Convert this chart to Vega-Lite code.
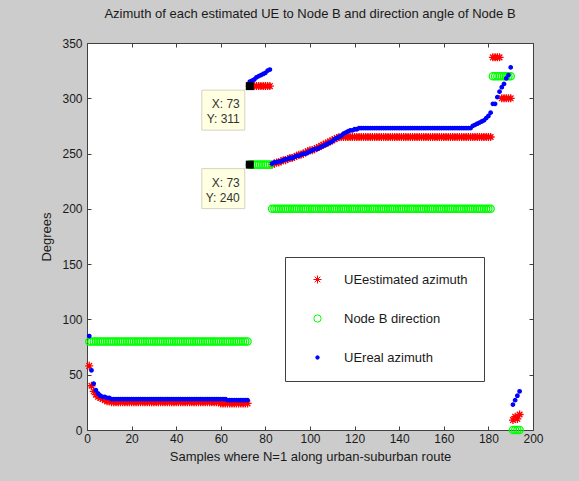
{
"$schema": "https://vega.github.io/schema/vega-lite/v6.json",
"width": 446, "height": 387,
"autosize": {"type": "none"},
"padding": {"left": 87, "top": 43, "right": 46, "bottom": 51},
"background": "#cccccc",
"title": {"text": "Azimuth of each estimated UE to Node B and direction angle of Node B", "font": "Liberation Sans", "fontSize": 13, "fontWeight": "normal", "color": "#1a1a1a", "offset": 16, "anchor": "middle"},
"datasets": {
"pts": [
{"x":1,"est":58,"nb":80,"real":85},{"x":2,"est":40,"nb":80,"real":54},{"x":3,"est":35,"nb":80,"real":42},{"x":4,"est":32,"nb":80,"real":36},{"x":5,"est":30,"nb":80,"real":33},{"x":6,"est":29,"nb":80,"real":31},{"x":7,"est":28,"nb":80,"real":30},{"x":8,"est":27,"nb":80,"real":30},{"x":9,"est":26,"nb":80,"real":29},{"x":10,"est":26,"nb":80,"real":29},
{"x":11,"est":25,"nb":80,"real":28},{"x":12,"est":25,"nb":80,"real":28},{"x":13,"est":25,"nb":80,"real":28},{"x":14,"est":25,"nb":80,"real":28},{"x":15,"est":25,"nb":80,"real":28},{"x":16,"est":25,"nb":80,"real":28},{"x":17,"est":25,"nb":80,"real":28},{"x":18,"est":25,"nb":80,"real":28},{"x":19,"est":25,"nb":80,"real":28},{"x":20,"est":25,"nb":80,"real":28},
{"x":21,"est":25,"nb":80,"real":28},{"x":22,"est":25,"nb":80,"real":28},{"x":23,"est":25,"nb":80,"real":28},{"x":24,"est":25,"nb":80,"real":28},{"x":25,"est":25,"nb":80,"real":28},{"x":26,"est":25,"nb":80,"real":28},{"x":27,"est":25,"nb":80,"real":28},{"x":28,"est":25,"nb":80,"real":28},{"x":29,"est":25,"nb":80,"real":28},{"x":30,"est":25,"nb":80,"real":28},
{"x":31,"est":25,"nb":80,"real":28},{"x":32,"est":25,"nb":80,"real":28},{"x":33,"est":25,"nb":80,"real":28},{"x":34,"est":25,"nb":80,"real":28},{"x":35,"est":25,"nb":80,"real":28},{"x":36,"est":25,"nb":80,"real":28},{"x":37,"est":25,"nb":80,"real":28},{"x":38,"est":25,"nb":80,"real":28},{"x":39,"est":25,"nb":80,"real":28},{"x":40,"est":25,"nb":80,"real":28},
{"x":41,"est":25,"nb":80,"real":28},{"x":42,"est":25,"nb":80,"real":28},{"x":43,"est":25,"nb":80,"real":28},{"x":44,"est":25,"nb":80,"real":28},{"x":45,"est":25,"nb":80,"real":28},{"x":46,"est":25,"nb":80,"real":28},{"x":47,"est":25,"nb":80,"real":28},{"x":48,"est":25,"nb":80,"real":28},{"x":49,"est":25,"nb":80,"real":28},{"x":50,"est":25,"nb":80,"real":28},
{"x":51,"est":25,"nb":80,"real":28},{"x":52,"est":25,"nb":80,"real":28},{"x":53,"est":25,"nb":80,"real":28},{"x":54,"est":25,"nb":80,"real":28},{"x":55,"est":25,"nb":80,"real":28},{"x":56,"est":25,"nb":80,"real":28},{"x":57,"est":25,"nb":80,"real":28},{"x":58,"est":25,"nb":80,"real":28},{"x":59,"est":25,"nb":80,"real":28},{"x":60,"est":24,"nb":80,"real":28},
{"x":61,"est":24,"nb":80,"real":28},{"x":62,"est":24,"nb":80,"real":28},{"x":63,"est":24,"nb":80,"real":27},{"x":64,"est":24,"nb":80,"real":27},{"x":65,"est":24,"nb":80,"real":27},{"x":66,"est":24,"nb":80,"real":27},{"x":67,"est":24,"nb":80,"real":27},{"x":68,"est":24,"nb":80,"real":27},{"x":69,"est":24,"nb":80,"real":27},{"x":70,"est":24,"nb":80,"real":27},
{"x":71,"est":24,"nb":80,"real":27},{"x":72,"est":24,"nb":80,"real":27},
{"x":73,"est":311,"nb":240,"real":315},{"x":74,"est":311,"nb":240,"real":316},{"x":75,"est":311,"nb":240,"real":317},{"x":76,"est":311,"nb":240,"real":319},{"x":77,"est":311,"nb":240,"real":320},{"x":78,"est":311,"nb":240,"real":321},{"x":79,"est":311,"nb":240,"real":322},{"x":80,"est":311,"nb":240,"real":323},{"x":81,"est":311,"nb":240,"real":325},{"x":82,"est":311,"nb":240,"real":326},
{"x":83,"est":240,"nb":200,"real":241},{"x":84,"est":241,"nb":200,"real":242},{"x":85,"est":242,"nb":200,"real":242},{"x":86,"est":242,"nb":200,"real":243},{"x":87,"est":243,"nb":200,"real":243},{"x":88,"est":244,"nb":200,"real":244},{"x":89,"est":244,"nb":200,"real":245},{"x":90,"est":245,"nb":200,"real":245},
{"x":91,"est":246,"nb":200,"real":246},{"x":92,"est":246,"nb":200,"real":246},{"x":93,"est":247,"nb":200,"real":247},{"x":94,"est":248,"nb":200,"real":248},{"x":95,"est":249,"nb":200,"real":248},{"x":96,"est":249,"nb":200,"real":249},{"x":97,"est":250,"nb":200,"real":250},{"x":98,"est":251,"nb":200,"real":250},{"x":99,"est":252,"nb":200,"real":251},{"x":100,"est":253,"nb":200,"real":252},
{"x":101,"est":253,"nb":200,"real":253},{"x":102,"est":254,"nb":200,"real":254},{"x":103,"est":255,"nb":200,"real":254},{"x":104,"est":256,"nb":200,"real":255},{"x":105,"est":257,"nb":200,"real":256},{"x":106,"est":258,"nb":200,"real":257},{"x":107,"est":259,"nb":200,"real":258},{"x":108,"est":260,"nb":200,"real":259},{"x":109,"est":261,"nb":200,"real":260},{"x":110,"est":262,"nb":200,"real":261},
{"x":111,"est":263,"nb":200,"real":263},{"x":112,"est":264,"nb":200,"real":264},{"x":113,"est":265,"nb":200,"real":265},{"x":114,"est":265,"nb":200,"real":266},{"x":115,"est":265,"nb":200,"real":268},{"x":116,"est":265,"nb":200,"real":269},{"x":117,"est":265,"nb":200,"real":270},{"x":118,"est":265,"nb":200,"real":271},{"x":119,"est":265,"nb":200,"real":271},{"x":120,"est":265,"nb":200,"real":272},
{"x":121,"est":265,"nb":200,"real":272},{"x":122,"est":265,"nb":200,"real":273},{"x":123,"est":265,"nb":200,"real":273},{"x":124,"est":265,"nb":200,"real":273},{"x":125,"est":265,"nb":200,"real":273},{"x":126,"est":265,"nb":200,"real":273},{"x":127,"est":265,"nb":200,"real":273},{"x":128,"est":265,"nb":200,"real":273},{"x":129,"est":265,"nb":200,"real":273},{"x":130,"est":265,"nb":200,"real":273},
{"x":131,"est":265,"nb":200,"real":273},{"x":132,"est":265,"nb":200,"real":273},{"x":133,"est":265,"nb":200,"real":273},{"x":134,"est":265,"nb":200,"real":273},{"x":135,"est":265,"nb":200,"real":273},{"x":136,"est":265,"nb":200,"real":273},{"x":137,"est":265,"nb":200,"real":273},{"x":138,"est":265,"nb":200,"real":273},{"x":139,"est":265,"nb":200,"real":273},{"x":140,"est":265,"nb":200,"real":273},
{"x":141,"est":265,"nb":200,"real":273},{"x":142,"est":265,"nb":200,"real":273},{"x":143,"est":265,"nb":200,"real":273},{"x":144,"est":265,"nb":200,"real":273},{"x":145,"est":265,"nb":200,"real":273},{"x":146,"est":265,"nb":200,"real":273},{"x":147,"est":265,"nb":200,"real":273},{"x":148,"est":265,"nb":200,"real":273},{"x":149,"est":265,"nb":200,"real":273},{"x":150,"est":265,"nb":200,"real":273},
{"x":151,"est":265,"nb":200,"real":273},{"x":152,"est":265,"nb":200,"real":273},{"x":153,"est":265,"nb":200,"real":273},{"x":154,"est":265,"nb":200,"real":273},{"x":155,"est":265,"nb":200,"real":273},{"x":156,"est":265,"nb":200,"real":273},{"x":157,"est":265,"nb":200,"real":273},{"x":158,"est":265,"nb":200,"real":273},{"x":159,"est":265,"nb":200,"real":273},{"x":160,"est":265,"nb":200,"real":273},
{"x":161,"est":265,"nb":200,"real":273},{"x":162,"est":265,"nb":200,"real":273},{"x":163,"est":265,"nb":200,"real":273},{"x":164,"est":265,"nb":200,"real":273},{"x":165,"est":265,"nb":200,"real":273},{"x":166,"est":265,"nb":200,"real":273},{"x":167,"est":265,"nb":200,"real":273},{"x":168,"est":265,"nb":200,"real":273},{"x":169,"est":265,"nb":200,"real":273},{"x":170,"est":265,"nb":200,"real":273},
{"x":171,"est":265,"nb":200,"real":273},{"x":172,"est":265,"nb":200,"real":273},{"x":173,"est":265,"nb":200,"real":275},{"x":174,"est":265,"nb":200,"real":276},{"x":175,"est":265,"nb":200,"real":277},{"x":176,"est":265,"nb":200,"real":278},{"x":177,"est":265,"nb":200,"real":279},{"x":178,"est":265,"nb":200,"real":280},{"x":179,"est":265,"nb":200,"real":282},{"x":180,"est":265,"nb":200,"real":284},
{"x":181,"est":265,"nb":200,"real":287},
{"x":182,"est":337,"nb":320,"real":295},{"x":183,"est":337,"nb":320,"real":295},{"x":184,"est":337,"nb":320,"real":301},{"x":185,"est":337,"nb":320,"real":306},{"x":186,"est":300,"nb":320,"real":310},{"x":187,"est":300,"nb":320,"real":313},{"x":188,"est":300,"nb":320,"real":318},{"x":189,"est":300,"nb":320,"real":321},{"x":190,"est":300,"nb":320,"real":328},
{"x":191,"est":9,"nb":0,"real":23},{"x":192,"est":12,"nb":0,"real":27},{"x":193,"est":10,"nb":0,"real":31},{"x":194,"est":14,"nb":0,"real":35}
],
"tips": [
{"tx":73,"ty":311,"lx":"X: 73","ly":"Y: 311"},
{"tx":73,"ty":240,"lx":"X: 73","ly":"Y: 240"}
]
},
"layer": [
{
"data": {"name": "pts"},
"transform": [{"fold": ["est", "nb", "real"], "as": ["key", "val"]}],
"mark": {"type": "point", "filled": false, "strokeWidth": 1.3, "opacity": 1},
"encoding": {
"x": {"field": "x", "type": "quantitative", "scale": {"domain": [0, 200], "nice": false, "zero": false}, "axis": {"orient": "bottom", "values": [0,20,40,60,80,100,120,140,160,180,200], "title": "Samples where N=1 along urban-suburban route", "labelPadding": 7, "titlePadding": 6}},
"y": {"field": "val", "type": "quantitative", "scale": {"domain": [0, 350], "nice": false}, "axis": {"orient": "left", "values": [0,50,100,150,200,250,300,350], "title": "Degrees", "labelPadding": 9, "titlePadding": 8}},
"stroke": {"field": "key", "type": "nominal", "scale": {"domain": ["est", "nb", "real"], "range": ["#ff0000", "#00ff00", "#0000ff"]}, "legend": {"orient": "none", "legendX": 198, "legendY": 214, "labelExpr": "datum.label == 'est' ? 'UEestimated azimuth' : datum.label == 'nb' ? 'Node B direction' : 'UEreal azimuth'"}},
"fill": {"field": "key", "type": "nominal", "scale": {"domain": ["est", "nb", "real"], "range": ["transparent", "transparent", "#0000ff"]}, "legend": {"orient": "none", "legendX": 198, "legendY": 214, "labelExpr": "datum.label == 'est' ? 'UEestimated azimuth' : datum.label == 'nb' ? 'Node B direction' : 'UEreal azimuth'"}},
"shape": {"field": "key", "type": "nominal", "scale": {"domain": ["est", "nb", "real"], "range": ["M-1,0L1,0M0,-1L0,1M-0.7,-0.7L0.7,0.7M-0.7,0.7L0.7,-0.7", "circle", "circle"]}, "legend": {"orient": "none", "legendX": 198, "legendY": 214, "labelExpr": "datum.label == 'est' ? 'UEestimated azimuth' : datum.label == 'nb' ? 'Node B direction' : 'UEreal azimuth'"}},
"size": {"field": "key", "type": "nominal", "scale": {"type": "ordinal", "domain": ["est", "nb", "real"], "range": [64, 52, 12]}, "legend": {"orient": "none", "legendX": 198, "legendY": 214, "labelExpr": "datum.label == 'est' ? 'UEestimated azimuth' : datum.label == 'nb' ? 'Node B direction' : 'UEreal azimuth'"}},
"order": {"field": "key", "type": "ordinal", "sort": "ascending"}
}
},
{
"data": {"name": "tips"},
"layer": [
{"mark": {"type": "rect", "fill": "#ffffe1", "stroke": "#d6d3c0", "strokeWidth": 1, "xOffset": -48, "x2Offset": -5, "yOffset": 4, "y2Offset": 44},
 "encoding": {"x": {"field": "tx", "type": "quantitative", "axis": null}, "x2": {"field": "tx"}, "y": {"field": "ty", "type": "quantitative", "axis": null}, "y2": {"field": "ty"}}},
{"mark": {"type": "text", "align": "right", "baseline": "middle", "dx": -10, "dy": 18, "font": "Liberation Sans", "fontSize": 12, "color": "#333333"},
 "encoding": {"x": {"field": "tx", "type": "quantitative", "axis": null}, "y": {"field": "ty", "type": "quantitative", "axis": null}, "text": {"field": "lx"}}},
{"mark": {"type": "text", "align": "right", "baseline": "middle", "dx": -10, "dy": 33, "font": "Liberation Sans", "fontSize": 12, "color": "#333333"},
 "encoding": {"x": {"field": "tx", "type": "quantitative", "axis": null}, "y": {"field": "ty", "type": "quantitative", "axis": null}, "text": {"field": "ly"}}},
{"mark": {"type": "point", "shape": "square", "filled": true, "size": 64, "color": "#000000", "opacity": 1},
 "encoding": {"x": {"field": "tx", "type": "quantitative", "axis": null}, "y": {"field": "ty", "type": "quantitative", "axis": null}}}
]
},
{
"data": {"name": "tips"},
"mark": {"type": "point", "opacity": 0},
"encoding": {
"x": {"field": "tx", "type": "quantitative", "axis": {"orient": "top", "values": [0,20,40,60,80,100,120,140,160,180,200], "labels": false, "title": null}},
"y": {"field": "ty", "type": "quantitative", "axis": {"orient": "right", "values": [0,50,100,150,200,250,300,350], "labels": false, "title": null}}
}
}
],
"resolve": {"axis": {"x": "independent", "y": "independent"}},
"config": {
"font": "Liberation Sans",
"view": {"fill": "#ffffff", "stroke": "#404040", "strokeWidth": 1},
"axis": {"domain": false, "grid": false, "tickColor": "#404040", "tickSize": -4, "labelFont": "Liberation Sans", "labelFontSize": 12, "labelColor": "#1a1a1a", "titleFont": "Liberation Sans", "titleFontSize": 13, "titleFontWeight": "normal", "titleColor": "#1a1a1a", "labelFlush": false, "labelOverlap": false},
"legend": {"fillColor": "#ffffff", "strokeColor": "#404040", "padding": 16, "labelFont": "Liberation Sans", "labelFontSize": 13, "labelColor": "#1a1a1a", "rowPadding": 25, "symbolOffset": 10, "labelOffset": 20, "title": null, "labelLimit": 300, "symbolStrokeWidth": 1}
}
}
